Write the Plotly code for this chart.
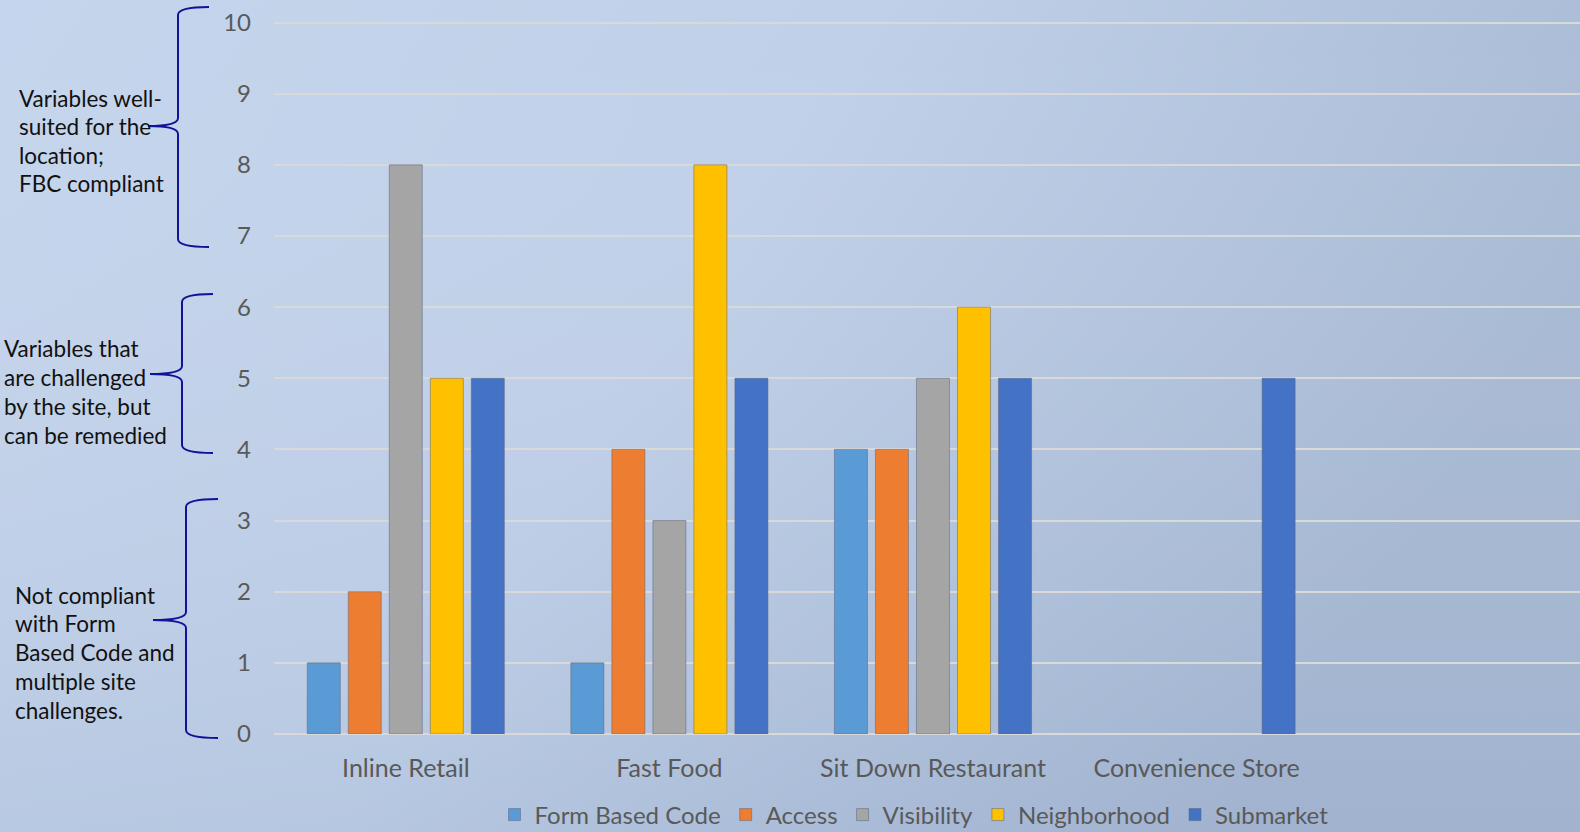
import base64
import plotly.graph_objects as go

categories = ["Inline Retail", "Fast Food", "Sit Down Restaurant", "Convenience Store"]
series_names = ["Form Based Code", "Access", "Visibility", "Neighborhood", "Submarket"]
form_based_code = [1, 1, 4, None]
access = [2, 4, 4, None]
visibility = [8, 3, 5, None]
neighborhood = [5, 8, 6, None]
submarket = [5, 5, 5, 5]
series_values = [form_based_code, access, visibility, neighborhood, submarket]
colors = ["#5b9bd5", "#ed7d31", "#a5a5a5", "#ffc000", "#4472c4"]
y_ticks = list(range(0, 11))

note_top = ["Variables well-", "suited for the", "location;", "FBC compliant"]
note_mid = ["Variables that", "are challenged", "by the site, but", "can be remedied"]
note_bot = ["Not compliant", "with Form", "Based Code and", "multiple site", "challenges."]

W, H = 1580, 832
L, R, T, B = 274, 0, 19, 98
PW = W - L - R
PH = H - T - B


def px(x):
    return (x - L) / PW


def py(y):
    return (H - B - y) / PH


FONT = "Lato, 'Open Sans', sans-serif"

fig = go.Figure()
for name, vals, col in zip(series_names, series_values, colors):
    fig.add_trace(go.Bar(
        name=name, x=categories, y=vals,
        marker=dict(color=col, line=dict(color="rgba(90,100,130,0.5)", width=1)),
    ))

# background gradient as svg image
svg = f'''<svg xmlns="http://www.w3.org/2000/svg" width="{W}" height="{H}">
<defs>
<linearGradient id="g" x1="0" y1="0" x2="1" y2="0.35">
<stop offset="0" stop-color="#c5d5ec"/>
<stop offset="0.5" stop-color="#c0d0e8"/>
<stop offset="0.78" stop-color="#b2c3dd"/>
<stop offset="1" stop-color="#a8b9d4"/>
</linearGradient>
<linearGradient id="h" x1="0" y1="0" x2="0" y2="1">
<stop offset="0" stop-color="#ffffff" stop-opacity="0.0"/>
<stop offset="1" stop-color="#6f86ad" stop-opacity="0.12"/>
</linearGradient>
</defs>
<rect width="{W}" height="{H}" fill="url(#g)"/>
<rect width="{W}" height="{H}" fill="url(#h)"/>
</svg>'''
src = "data:image/svg+xml;base64," + base64.b64encode(svg.encode()).decode()

images = [dict(source=src, xref="paper", yref="paper", x=px(0), y=py(0),
               sizex=W / PW, sizey=H / PH, xanchor="left", yanchor="top",
               sizing="stretch", layer="below")]

# braces (decorative)
BR = "#10139a"
braces = [
    (209, 178, 148, 7, 126, 247),
    (213, 182, 150, 294, 374, 453),
    (218, 186, 153, 499, 620, 738),
]
shapes = []
for xe, xv, xt, yt, ytip, yb in braces:
    d = (f"M {px(xe)},{py(yt)} Q {px(xv)},{py(yt)} {px(xv)},{py(yt + 8)} "
         f"L {px(xv)},{py(ytip - 8)} Q {px(xv)},{py(ytip)} {px(xt)},{py(ytip)} "
         f"Q {px(xv)},{py(ytip)} {px(xv)},{py(ytip + 8)} "
         f"L {px(xv)},{py(yb - 8)} Q {px(xv)},{py(yb)} {px(xe)},{py(yb)}")
    shapes.append(dict(type="path", path=d, xref="paper", yref="paper",
                       line=dict(color=BR, width=2), layer="above"))

annotations = []
for lines, x0, y0, dy in [(note_top, 17, 98, 28.6), (note_mid, 2, 348, 29.2), (note_bot, 13, 595, 28.8)]:
    for i, t in enumerate(lines):
        annotations.append(dict(text=t, xref="paper", yref="paper", x=px(x0), y=py(y0 + i * dy),
                                xanchor="left", yanchor="middle", showarrow=False,
                                font=dict(family=FONT, size=22.5, color="#111111")))

slot = 263.6
x_hi = -0.5 + PW / slot

fig.update_layout(
    width=W, height=H,
    margin=dict(l=L, r=R, t=T, b=B, pad=0),
    paper_bgcolor="#bfcfe7", plot_bgcolor="rgba(0,0,0,0)",
    barmode="group", bargap=0.222, bargroupgap=0.195,
    images=images, shapes=shapes, annotations=annotations,
    font=dict(family=FONT, color="#595959"),
    legend=dict(orientation="h", xref="container", yref="container",
                x=914 / W, xanchor="center", y=1 - 815 / H, yanchor="middle",
                font=dict(family=FONT, size=24, color="#595959"), bgcolor="rgba(0,0,0,0)",
                traceorder="normal"),
    xaxis=dict(range=[-0.5, x_hi], showgrid=False, zeroline=False, showline=False,
               ticks="", tickfont=dict(family=FONT, size=25, color="#595959"),
               ticklabelstandoff=17, fixedrange=True, automargin=False),
    yaxis=dict(range=[0, 10.05], tickvals=y_ticks, showgrid=True, gridcolor="#d9d9d9", gridwidth=2,
               zeroline=True, zerolinecolor="#d9d9d9", zerolinewidth=2, showline=False,
               ticks="", tickfont=dict(family=FONT, size=24, color="#595959"),
               ticklabelstandoff=22, automargin=False),
    showlegend=True,
)

fig.write_html("out.html")
